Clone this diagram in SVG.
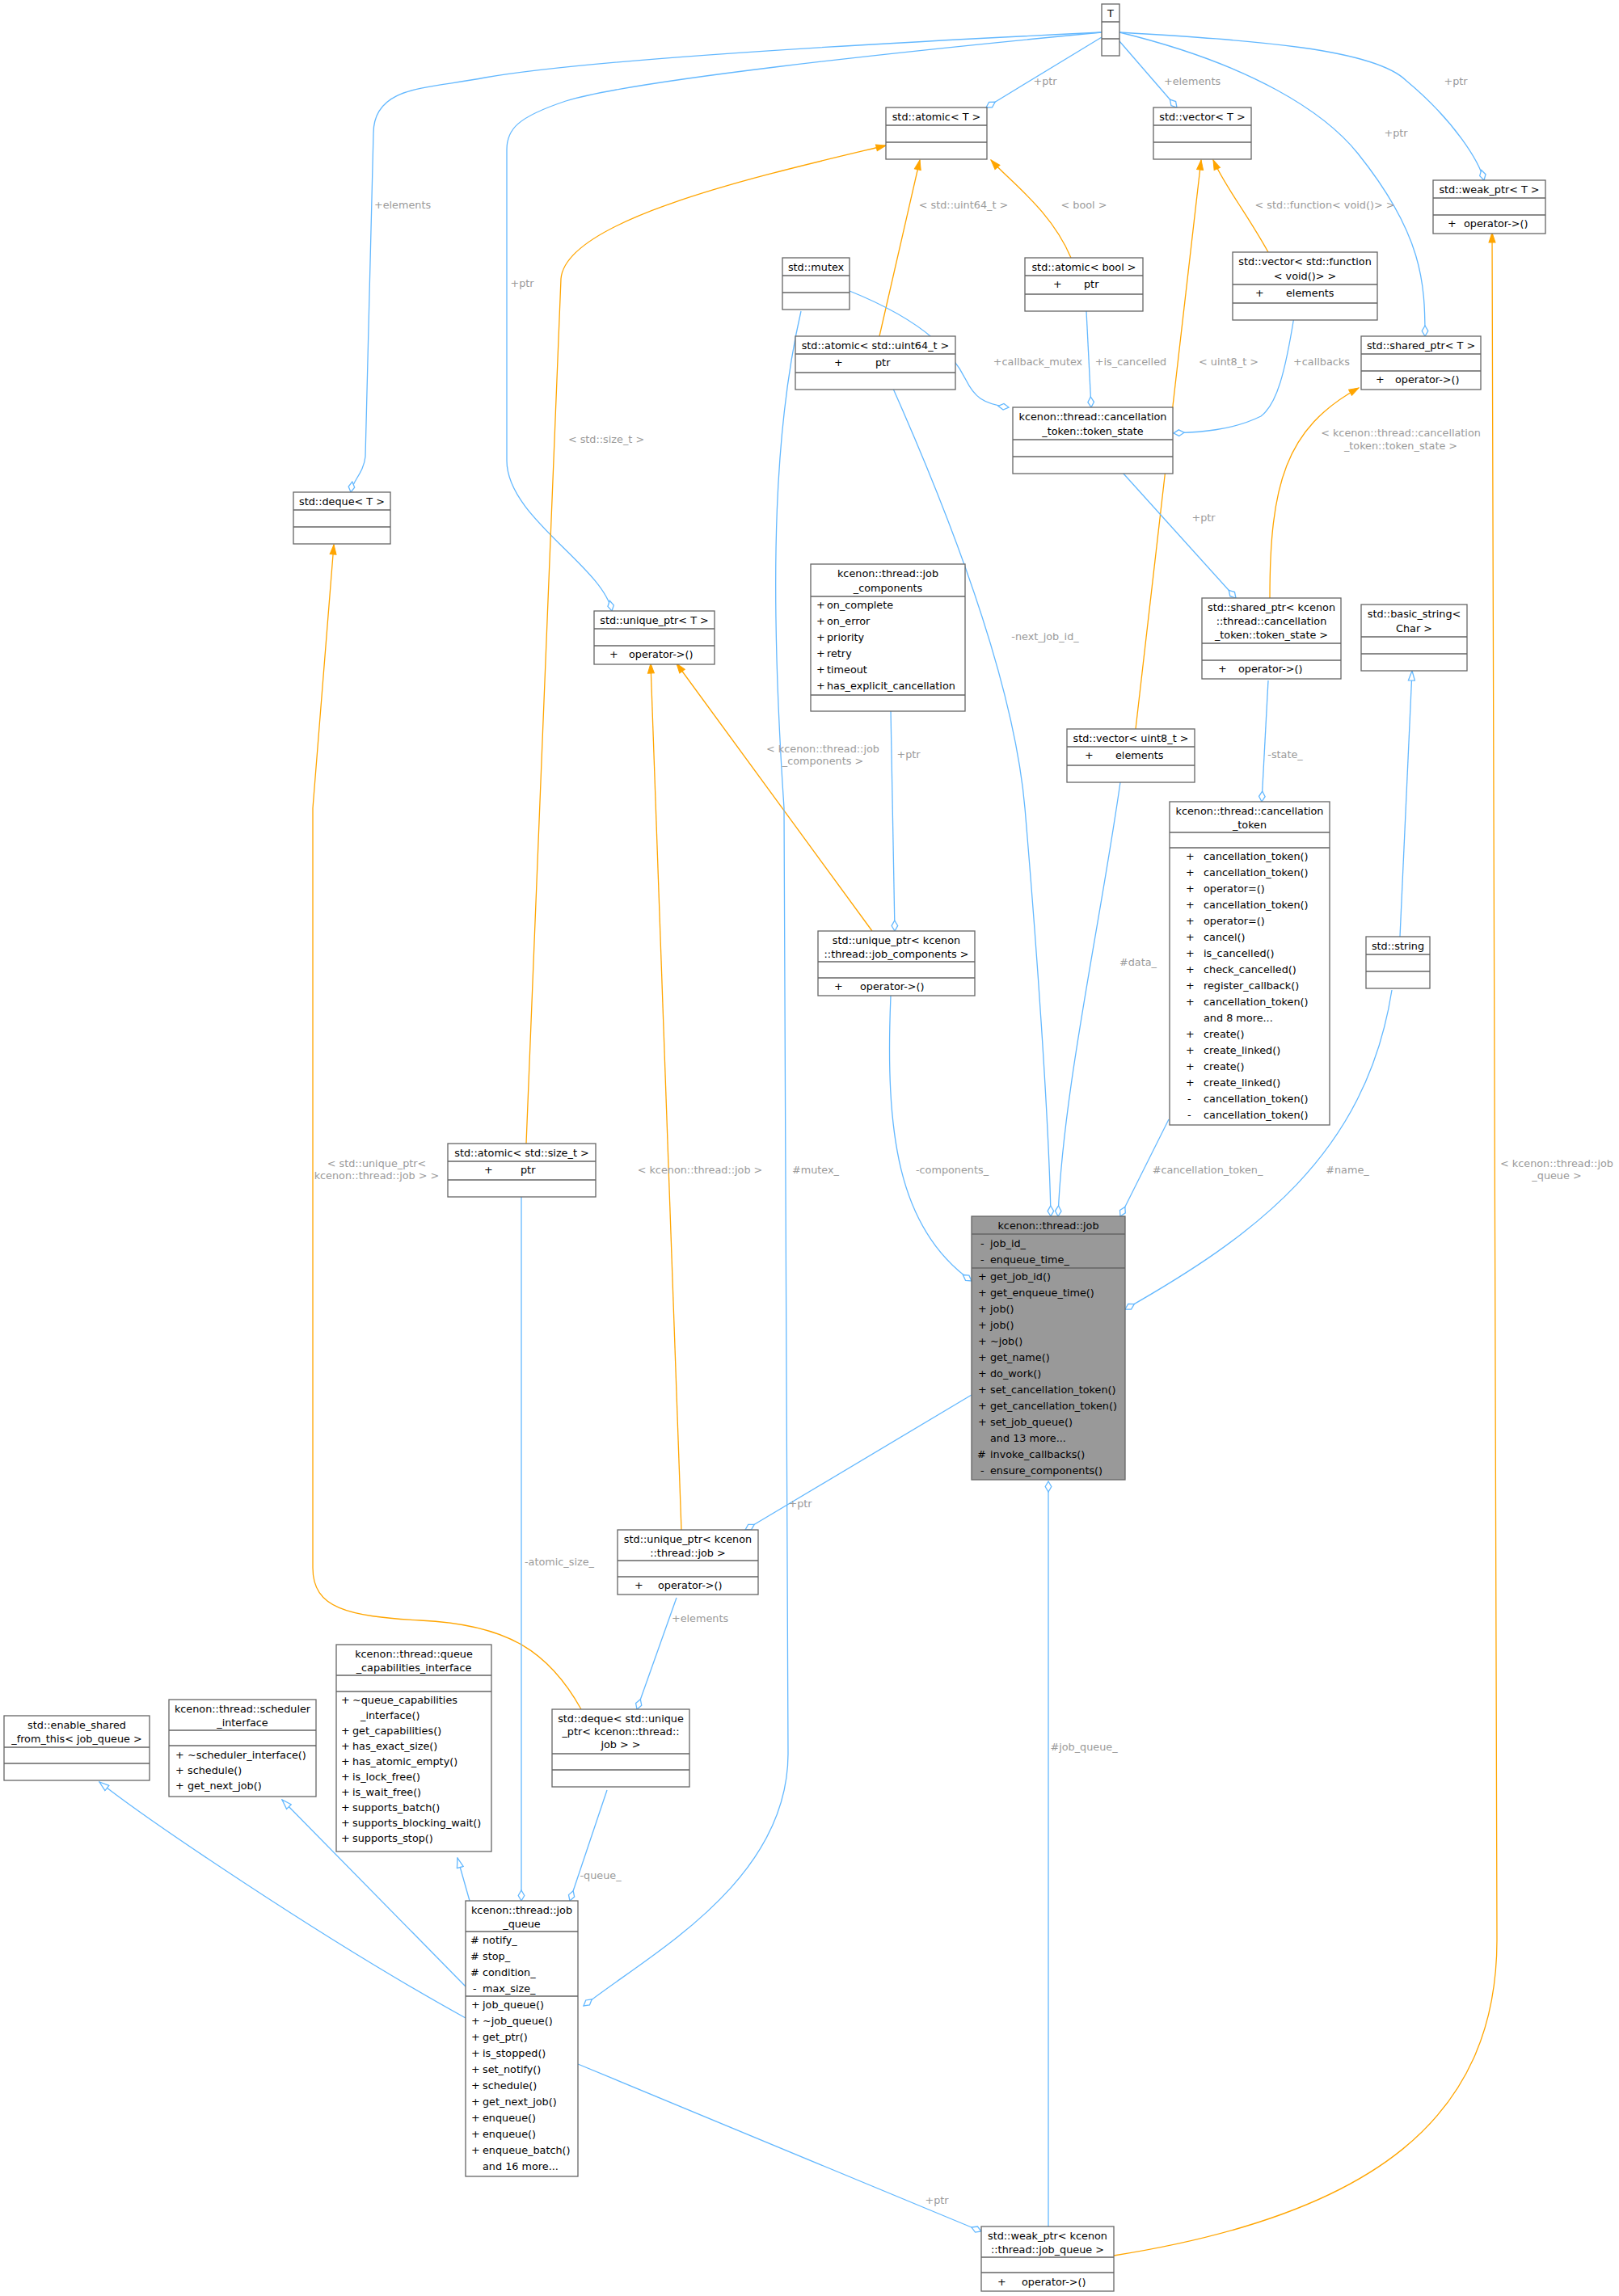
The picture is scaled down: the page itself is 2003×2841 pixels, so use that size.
<svg xmlns="http://www.w3.org/2000/svg" width="2003" height="2841" viewBox="0 0 2003 2841">
<style>
text{font-family:"DejaVu Sans","Liberation Sans",sans-serif;font-size:12.8px;fill:#000}
.c{text-anchor:middle}
.b{fill:#fff;stroke:#666;stroke-width:1.3}
.g{fill:#999;stroke:#666;stroke-width:1.3}
.s{stroke:#666;stroke-width:1.3}
.l{fill:#9a9a9a;text-anchor:middle}
.e{fill:none;stroke:#63b8ff;stroke-width:1.3}
.o{fill:none;stroke:#ffa500;stroke-width:1.3}
</style>
<defs>
<marker id="d" markerUnits="userSpaceOnUse" markerWidth="16" markerHeight="10" refX="14" refY="5" orient="auto"><path d="M1,5 L7.5,1.2 L14,5 L7.5,8.8 Z" fill="#fff" stroke="#63b8ff" stroke-width="1.3"/></marker>
<marker id="a" markerUnits="userSpaceOnUse" markerWidth="14" markerHeight="10" refX="13" refY="5" orient="auto"><path d="M1,1 L13,5 L1,9 Z" fill="#ffa500" stroke="#ffa500"/></marker>
<marker id="t" markerUnits="userSpaceOnUse" markerWidth="14" markerHeight="10" refX="13" refY="5" orient="auto"><path d="M1,1 L13,5 L1,9 Z" fill="#fff" stroke="#63b8ff" stroke-width="1.3"/></marker>
</defs>
<rect width="2003" height="2841" fill="#fff"/>
<g id="edges">
<path class="e" marker-end="url(#d)" d="M1363,40 C1050,55 720,75 600,96 C530,110 462,105 462,165 L452,565 C450,585 436,595 434,609"/>
<path class="e" marker-end="url(#d)" d="M1363,40 C1100,65 780,100 700,125 C640,145 627,160 627,185 L627,570 C627,640 745,700 757,756"/>
<path class="e" marker-end="url(#d)" d="M1363,46 L1220,133"/>
<path class="e" marker-end="url(#d)" d="M1385,51 L1456,133"/>
<path class="e" marker-end="url(#d)" d="M1385,40 C1550,80 1640,140 1680,190 C1760,290 1763,350 1763,416"/>
<path class="e" marker-end="url(#d)" d="M1385,40 C1550,50 1700,60 1740,100 C1800,150 1830,200 1836,223"/>
<path class="o" marker-end="url(#a)" d="M651,1415 L694,345 C700,270 950,215 1096,180"/>
<path class="o" marker-end="url(#a)" d="M1088,416 L1138,198"/>
<path class="o" marker-end="url(#a)" d="M1325,319 C1300,260 1250,225 1226,198"/>
<path class="o" marker-end="url(#a)" d="M1405,902 L1486,198"/>
<path class="o" marker-end="url(#a)" d="M1569,312 C1540,260 1515,230 1501,198"/>
<path class="o" marker-end="url(#a)" d="M1571,740 C1571,600 1590,530 1681,480"/>
<path class="o" marker-end="url(#a)" d="M1079,1152 L837,821"/>
<path class="o" marker-end="url(#a)" d="M843,1893 L805,821"/>
<path class="o" marker-end="url(#a)" d="M719,2115 C680,2045 630,2010 520,2005 C430,2000 387,1990 387,1940 L387,1000 L413,674"/>
<path class="o" marker-end="url(#a)" d="M1378,2791 C1700,2740 1852,2620 1852,2400 L1846,288"/>
<path class="e" marker-end="url(#d)" d="M1051,360 C1150,400 1180,440 1195,470 C1205,490 1215,500 1248,504"/>
<path class="e" marker-end="url(#d)" d="M991,385 C960,520 950,700 970,1000 L975,2170 C975,2330 800,2420 722,2482"/>
<path class="e" marker-end="url(#d)" d="M1344,385 L1350,504"/>
<path class="e" marker-end="url(#d)" d="M1601,392 C1590,460 1580,500 1560,515 C1520,535 1470,535 1452,536"/>
<path class="e" marker-end="url(#d)" d="M1389,585 L1529,740"/>
<path class="e" marker-end="url(#d)" d="M1105,481 C1180,650 1255,850 1268,1000 C1285,1200 1298,1400 1300,1505"/>
<path class="e" marker-end="url(#d)" d="M1386,968 C1360,1150 1315,1350 1309,1505"/>
<path class="e" marker-end="url(#d)" d="M1102,878 L1107,1152"/>
<path class="e" marker-end="url(#d)" d="M1102,1232 C1095,1400 1110,1520 1202,1585"/>
<path class="e" marker-end="url(#d)" d="M1569,842 L1561,992"/>
<path class="e" marker-end="url(#d)" d="M1446,1385 L1386,1505"/>
<path class="e" marker-end="url(#d)" d="M1722,1225 C1690,1430 1550,1530 1392,1620"/>
<path class="e" marker-end="url(#t)" d="M1732,1159 L1747,830"/>
<path class="e" marker-end="url(#d)" d="M1202,1726 L922,1893"/>
<path class="e" marker-end="url(#d)" d="M645,1481 L645,2352"/>
<path class="e" marker-end="url(#d)" d="M837,1977 L788,2115"/>
<path class="e" marker-end="url(#d)" d="M751,2215 L705,2352"/>
<path class="e" marker-end="url(#t)" d="M581,2352 L566,2299"/>
<path class="e" marker-end="url(#t)" d="M576,2458 L349,2227"/>
<path class="e" marker-end="url(#t)" d="M576,2497 C400,2400 180,2250 123,2205"/>
<path class="e" marker-end="url(#d)" d="M715,2554 L1214,2761"/>
<path class="e" marker-end="url(#d)" d="M1297,2755 L1297,1833"/>
<text class="l" x="498" y="258">+elements</text>
<text class="l" x="646" y="355">+ptr</text>
<text class="l" x="1293" y="105">+ptr</text>
<text class="l" x="1475" y="105">+elements</text>
<text class="l" x="1727" y="169">+ptr</text>
<text class="l" x="1801" y="105">+ptr</text>
<text class="l" x="750" y="548">&lt; std::size_t &gt;</text>
<text class="l" x="1192" y="258">&lt; std::uint64_t &gt;</text>
<text class="l" x="1341" y="258">&lt; bool &gt;</text>
<text class="l" x="1520" y="452">&lt; uint8_t &gt;</text>
<text class="l" x="1639" y="258">&lt; std::function&lt; void()&gt; &gt;</text>
<text class="l" x="1733" y="540">&lt; kcenon::thread::cancellation</text>
<text class="l" x="1733" y="556">_token::token_state &gt;</text>
<text class="l" x="1018" y="931">&lt; kcenon::thread::job</text>
<text class="l" x="1018" y="946">_components &gt;</text>
<text class="l" x="866" y="1452">&lt; kcenon::thread::job &gt;</text>
<text class="l" x="466" y="1444">&lt; std::unique_ptr&lt;</text>
<text class="l" x="466" y="1459">kcenon::thread::job &gt; &gt;</text>
<text class="l" x="1926" y="1444">&lt; kcenon::thread::job</text>
<text class="l" x="1926" y="1459">_queue &gt;</text>
<text class="l" x="1284" y="452">+callback_mutex</text>
<text class="l" x="1009" y="1452">#mutex_</text>
<text class="l" x="1399" y="452">+is_cancelled</text>
<text class="l" x="1635" y="452">+callbacks</text>
<text class="l" x="1489" y="645">+ptr</text>
<text class="l" x="1293" y="792">-next_job_id_</text>
<text class="l" x="1408" y="1195">#data_</text>
<text class="l" x="1124" y="938">+ptr</text>
<text class="l" x="1178" y="1452">-components_</text>
<text class="l" x="1590" y="938">-state_</text>
<text class="l" x="1494" y="1452">#cancellation_token_</text>
<text class="l" x="1667" y="1452">#name_</text>
<text class="l" x="990" y="1865">+ptr</text>
<text class="l" x="692" y="1937">-atomic_size_</text>
<text class="l" x="866" y="2007">+elements</text>
<text class="l" x="743" y="2325">-queue_</text>
<text class="l" x="1159" y="2727">+ptr</text>
<text class="l" x="1341" y="2166">#job_queue_</text>
</g>
<g id="n_T"><rect class="b" x="1363" y="5" width="22" height="64"/><path class="s" d="M1363,27H1385M1363,48H1385"/><text class="c" x="1374" y="20.5">T</text></g>
<g id="n_atomicT"><rect class="b" x="1096" y="133" width="125" height="64"/><path class="s" d="M1096,155H1221M1096,176H1221"/><text class="c" x="1158.5" y="148.5">std::atomic&lt; T &gt;</text></g>
<g id="n_vectorT"><rect class="b" x="1427" y="133" width="121" height="64"/><path class="s" d="M1427,155H1548M1427,176H1548"/><text class="c" x="1487.5" y="148.5">std::vector&lt; T &gt;</text></g>
<g id="n_weakT"><rect class="b" x="1773" y="223" width="139" height="66"/><path class="s" d="M1773,245H1912M1773,266H1912"/><text class="c" x="1842.5" y="238.5">std::weak_ptr&lt; T &gt;</text><text x="1791" y="281">+</text><text x="1811" y="281">operator-&gt;()</text></g>
<g id="n_mutex"><rect class="b" x="968" y="319" width="83" height="64"/><path class="s" d="M968,341H1051M968,362H1051"/><text class="c" x="1009.5" y="334.5">std::mutex</text></g>
<g id="n_atomicbool"><rect class="b" x="1268" y="319" width="146" height="66"/><path class="s" d="M1268,341H1414M1268,364H1414"/><text class="c" x="1341" y="334.5">std::atomic&lt; bool &gt;</text><text x="1303" y="356">+</text><text x="1341" y="356">ptr</text></g>
<g id="n_vecfunc"><rect class="b" x="1525" y="312" width="179" height="84"/><path class="s" d="M1525,352H1704M1525,375H1704"/><text class="c" x="1614.5" y="328">std::vector&lt; std::function</text><text class="c" x="1614.5" y="346">&lt; void()&gt; &gt;</text><text x="1553" y="367">+</text><text x="1591" y="367">elements</text></g>
<g id="n_atomicu64"><rect class="b" x="984" y="416" width="198" height="66"/><path class="s" d="M984,438H1182M984,461H1182"/><text class="c" x="1083" y="431.5">std::atomic&lt; std::uint64_t &gt;</text><text x="1032" y="453">+</text><text x="1083" y="453">ptr</text></g>
<g id="n_sharedT"><rect class="b" x="1684" y="416" width="148" height="66"/><path class="s" d="M1684,438H1832M1684,459H1832"/><text class="c" x="1758" y="431.5">std::shared_ptr&lt; T &gt;</text><text x="1702" y="474">+</text><text x="1726" y="474">operator-&gt;()</text></g>
<g id="n_tokenstate"><rect class="b" x="1253" y="504" width="198" height="82"/><path class="s" d="M1253,544H1451M1253,565H1451"/><text class="c" x="1352" y="520">kcenon::thread::cancellation</text><text class="c" x="1352" y="538">_token::token_state</text></g>
<g id="n_dequeT"><rect class="b" x="363" y="609" width="120" height="64"/><path class="s" d="M363,631H483M363,652H483"/><text class="c" x="423" y="624.5">std::deque&lt; T &gt;</text></g>
<g id="n_jobcomp"><rect class="b" x="1003" y="698" width="191" height="182"/><path class="s" d="M1003,738H1194M1003,860H1194"/><text class="c" x="1098.5" y="714">kcenon::thread::job</text><text class="c" x="1098.5" y="732">_components</text>
<text x="1010" y="753">+</text><text x="1023" y="753">on_complete</text>
<text x="1010" y="773">+</text><text x="1023" y="773">on_error</text>
<text x="1010" y="793">+</text><text x="1023" y="793">priority</text>
<text x="1010" y="813">+</text><text x="1023" y="813">retry</text>
<text x="1010" y="833">+</text><text x="1023" y="833">timeout</text>
<text x="1010" y="853">+</text><text x="1023" y="853">has_explicit_cancellation</text></g>
<g id="n_uniqueT"><rect class="b" x="735" y="756" width="149" height="66"/><path class="s" d="M735,778H884M735,799H884"/><text class="c" x="809.5" y="771.5">std::unique_ptr&lt; T &gt;</text><text x="754" y="814">+</text><text x="778" y="814">operator-&gt;()</text></g>
<g id="n_sharedts"><rect class="b" x="1487" y="740" width="172" height="100"/><path class="s" d="M1487,796H1659M1487,817H1659"/><text class="c" x="1573" y="756">std::shared_ptr&lt; kcenon</text><text class="c" x="1573" y="773">::thread::cancellation</text><text class="c" x="1573" y="790">_token::token_state &gt;</text><text x="1507" y="832">+</text><text x="1532" y="832">operator-&gt;()</text></g>
<g id="n_basicstring"><rect class="b" x="1684" y="748" width="131" height="82"/><path class="s" d="M1684,788H1815M1684,809H1815"/><text class="c" x="1749.5" y="764">std::basic_string&lt;</text><text class="c" x="1749.5" y="782">Char &gt;</text></g>
<g id="n_vecu8"><rect class="b" x="1320" y="902" width="158" height="66"/><path class="s" d="M1320,924H1478M1320,947H1478"/><text class="c" x="1399" y="917.5">std::vector&lt; uint8_t &gt;</text><text x="1342" y="939">+</text><text x="1380" y="939">elements</text></g>
<g id="n_ctoken"><rect class="b" x="1447" y="992" width="198" height="400"/><path class="s" d="M1447,1030H1645M1447,1049H1645"/><text class="c" x="1546" y="1008">kcenon::thread::cancellation</text><text class="c" x="1546" y="1025">_token</text>
<text x="1467" y="1064">+</text><text x="1489" y="1064">cancellation_token()</text>
<text x="1467" y="1084">+</text><text x="1489" y="1084">cancellation_token()</text>
<text x="1467" y="1104">+</text><text x="1489" y="1104">operator=()</text>
<text x="1467" y="1124">+</text><text x="1489" y="1124">cancellation_token()</text>
<text x="1467" y="1144">+</text><text x="1489" y="1144">operator=()</text>
<text x="1467" y="1164">+</text><text x="1489" y="1164">cancel()</text>
<text x="1467" y="1184">+</text><text x="1489" y="1184">is_cancelled()</text>
<text x="1467" y="1204">+</text><text x="1489" y="1204">check_cancelled()</text>
<text x="1467" y="1224">+</text><text x="1489" y="1224">register_callback()</text>
<text x="1467" y="1244">+</text><text x="1489" y="1244">cancellation_token()</text>
<text x="1489" y="1264">and 8 more...</text>
<text x="1467" y="1284">+</text><text x="1489" y="1284">create()</text>
<text x="1467" y="1304">+</text><text x="1489" y="1304">create_linked()</text>
<text x="1467" y="1324">+</text><text x="1489" y="1324">create()</text>
<text x="1467" y="1344">+</text><text x="1489" y="1344">create_linked()</text>
<text x="1469" y="1364">-</text><text x="1489" y="1364">cancellation_token()</text>
<text x="1469" y="1384">-</text><text x="1489" y="1384">cancellation_token()</text></g>
<g id="n_uniquejc"><rect class="b" x="1012" y="1152" width="194" height="80"/><path class="s" d="M1012,1190H1206M1012,1210H1206"/><text class="c" x="1109" y="1168">std::unique_ptr&lt; kcenon</text><text class="c" x="1109" y="1185">::thread::job_components &gt;</text><text x="1032" y="1225">+</text><text x="1064" y="1225">operator-&gt;()</text></g>
<g id="n_string"><rect class="b" x="1690" y="1159" width="79" height="64"/><path class="s" d="M1690,1181H1769M1690,1202H1769"/><text class="c" x="1729.5" y="1174.5">std::string</text></g>
<g id="n_atomicsize"><rect class="b" x="554" y="1415" width="183" height="66"/><path class="s" d="M554,1437H737M554,1460H737"/><text class="c" x="645.5" y="1430.5">std::atomic&lt; std::size_t &gt;</text><text x="599" y="1452">+</text><text x="644" y="1452">ptr</text></g>
<g id="n_job"><rect class="g" x="1202" y="1505" width="190" height="326"/><path class="s" d="M1202,1527H1392M1202,1569H1392"/><text class="c" x="1297" y="1520.5">kcenon::thread::job</text>
<text x="1213" y="1543">-</text><text x="1225" y="1543">job_id_</text>
<text x="1213" y="1563">-</text><text x="1225" y="1563">enqueue_time_</text>
<text x="1210" y="1584">+</text><text x="1225" y="1584">get_job_id()</text>
<text x="1210" y="1604">+</text><text x="1225" y="1604">get_enqueue_time()</text>
<text x="1210" y="1624">+</text><text x="1225" y="1624">job()</text>
<text x="1210" y="1644">+</text><text x="1225" y="1644">job()</text>
<text x="1210" y="1664">+</text><text x="1225" y="1664">~job()</text>
<text x="1210" y="1684">+</text><text x="1225" y="1684">get_name()</text>
<text x="1210" y="1704">+</text><text x="1225" y="1704">do_work()</text>
<text x="1210" y="1724">+</text><text x="1225" y="1724">set_cancellation_token()</text>
<text x="1210" y="1744">+</text><text x="1225" y="1744">get_cancellation_token()</text>
<text x="1210" y="1764">+</text><text x="1225" y="1764">set_job_queue()</text>
<text x="1225" y="1784">and 13 more...</text>
<text x="1209" y="1804">#</text><text x="1225" y="1804">invoke_callbacks()</text>
<text x="1213" y="1824">-</text><text x="1225" y="1824">ensure_components()</text></g>
<g id="n_uniquejob"><rect class="b" x="764" y="1893" width="174" height="80"/><path class="s" d="M764,1931H938M764,1951H938"/><text class="c" x="851" y="1909">std::unique_ptr&lt; kcenon</text><text class="c" x="851" y="1926">::thread::job &gt;</text><text x="785" y="1966">+</text><text x="814" y="1966">operator-&gt;()</text></g>
<g id="n_qcaps"><rect class="b" x="416" y="2035" width="192" height="256"/><path class="s" d="M416,2073H608M416,2093H608"/><text class="c" x="512" y="2051">kcenon::thread::queue</text><text class="c" x="512" y="2068">_capabilities_interface</text>
<text x="422" y="2108">+</text><text x="436" y="2108">~queue_capabilities</text>
<text x="446" y="2127">_interface()</text>
<text x="422" y="2146">+</text><text x="436" y="2146">get_capabilities()</text>
<text x="422" y="2165">+</text><text x="436" y="2165">has_exact_size()</text>
<text x="422" y="2184">+</text><text x="436" y="2184">has_atomic_empty()</text>
<text x="422" y="2203">+</text><text x="436" y="2203">is_lock_free()</text>
<text x="422" y="2222">+</text><text x="436" y="2222">is_wait_free()</text>
<text x="422" y="2241">+</text><text x="436" y="2241">supports_batch()</text>
<text x="422" y="2260">+</text><text x="436" y="2260">supports_blocking_wait()</text>
<text x="422" y="2279">+</text><text x="436" y="2279">supports_stop()</text></g>
<g id="n_dequejob"><rect class="b" x="683" y="2115" width="170" height="96"/><path class="s" d="M683,2170H853M683,2190H853"/><text class="c" x="768" y="2131">std::deque&lt; std::unique</text><text class="c" x="768" y="2147">_ptr&lt; kcenon::thread::</text><text class="c" x="768" y="2163">job &gt; &gt;</text></g>
<g id="n_enableshared"><rect class="b" x="5" y="2123" width="180" height="80"/><path class="s" d="M5,2162H185M5,2182H185"/><text class="c" x="95" y="2139">std::enable_shared</text><text class="c" x="95" y="2156">_from_this&lt; job_queue &gt;</text></g>
<g id="n_sched"><rect class="b" x="209" y="2103" width="182" height="120"/><path class="s" d="M209,2141H391M209,2160H391"/><text class="c" x="300" y="2119">kcenon::thread::scheduler</text><text class="c" x="300" y="2136">_interface</text>
<text x="217" y="2176">+</text><text x="232" y="2176">~scheduler_interface()</text>
<text x="217" y="2195">+</text><text x="232" y="2195">schedule()</text>
<text x="217" y="2214">+</text><text x="232" y="2214">get_next_job()</text></g>
<g id="n_jobqueue"><rect class="b" x="576" y="2352" width="139" height="341"/><path class="s" d="M576,2390H715M576,2470H715"/><text class="c" x="645.5" y="2368">kcenon::thread::job</text><text class="c" x="645.5" y="2385">_queue</text>
<text x="582" y="2405">#</text><text x="597" y="2405">notify_</text>
<text x="582" y="2425">#</text><text x="597" y="2425">stop_</text>
<text x="582" y="2445">#</text><text x="597" y="2445">condition_</text>
<text x="585" y="2465">-</text><text x="597" y="2465">max_size_</text>
<text x="583" y="2485">+</text><text x="597" y="2485">job_queue()</text>
<text x="583" y="2505">+</text><text x="597" y="2505">~job_queue()</text>
<text x="583" y="2525">+</text><text x="597" y="2525">get_ptr()</text>
<text x="583" y="2545">+</text><text x="597" y="2545">is_stopped()</text>
<text x="583" y="2565">+</text><text x="597" y="2565">set_notify()</text>
<text x="583" y="2585">+</text><text x="597" y="2585">schedule()</text>
<text x="583" y="2605">+</text><text x="597" y="2605">get_next_job()</text>
<text x="583" y="2625">+</text><text x="597" y="2625">enqueue()</text>
<text x="583" y="2645">+</text><text x="597" y="2645">enqueue()</text>
<text x="583" y="2665">+</text><text x="597" y="2665">enqueue_batch()</text>
<text x="597" y="2685">and 16 more...</text></g>
<g id="n_weakjq"><rect class="b" x="1214" y="2755" width="164" height="80"/><path class="s" d="M1214,2793H1378M1214,2812H1378"/><text class="c" x="1296" y="2771">std::weak_ptr&lt; kcenon</text><text class="c" x="1296" y="2788">::thread::job_queue &gt;</text><text x="1234" y="2828">+</text><text x="1264" y="2828">operator-&gt;()</text></g>
</svg>
